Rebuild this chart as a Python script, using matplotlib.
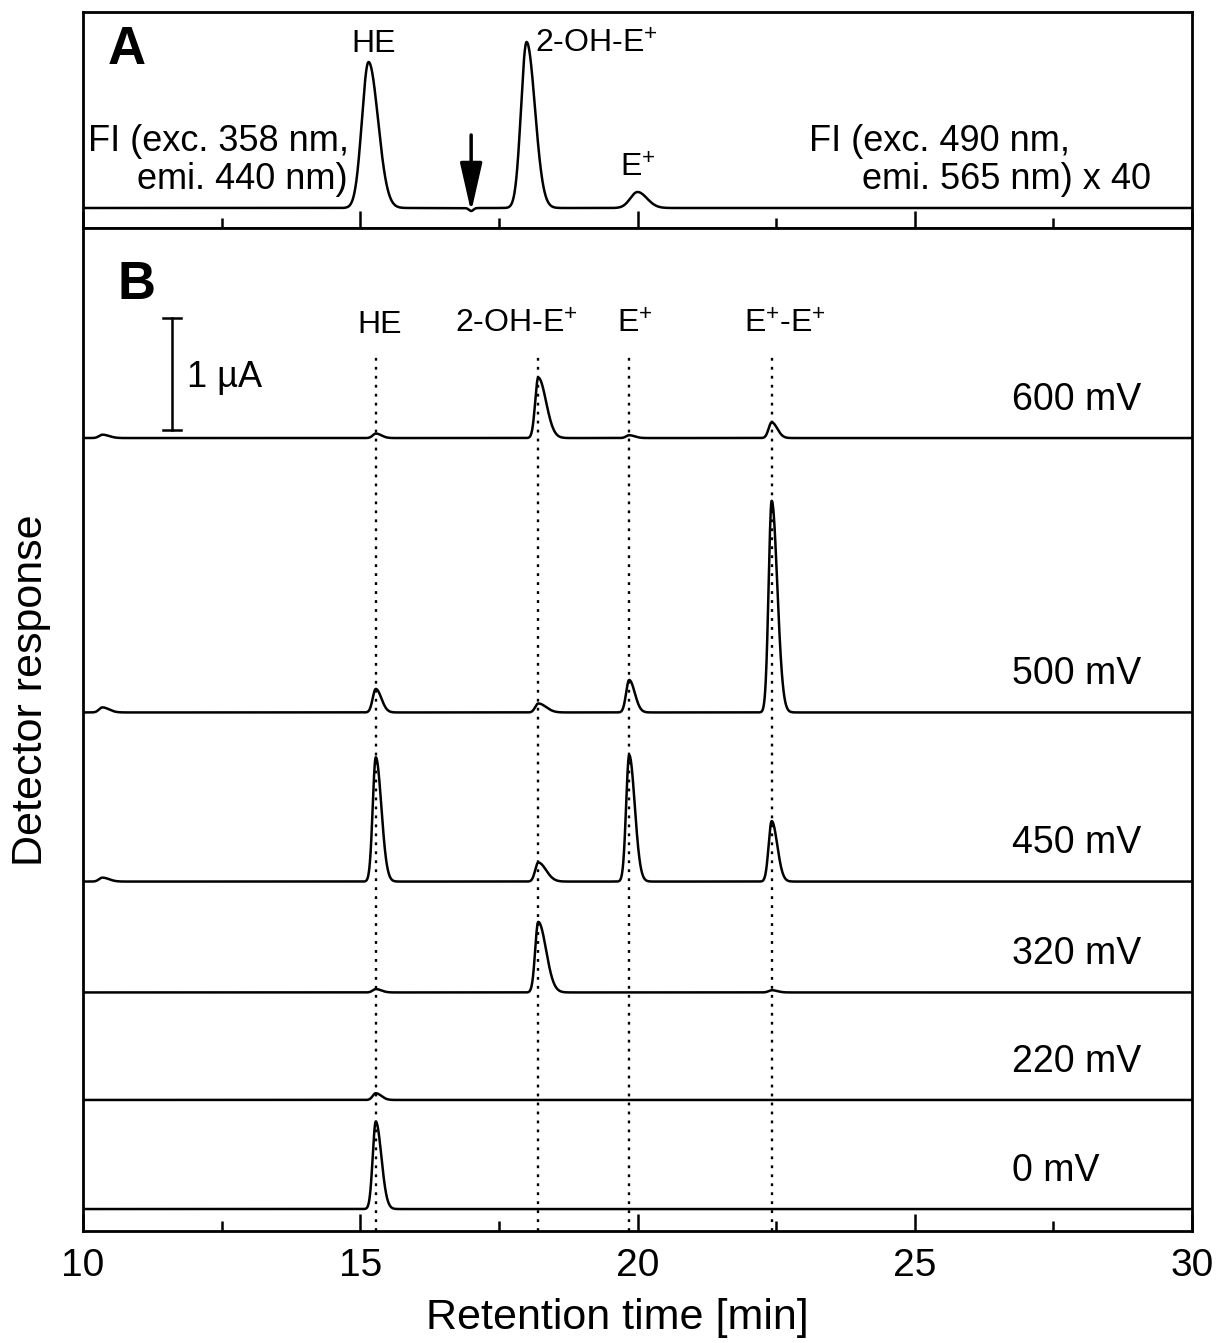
import numpy as np
import matplotlib
matplotlib.use("Agg")
import matplotlib.pyplot as plt

plt.rcParams["font.family"] = ["Liberation Sans", "DejaVu Sans"]
plt.rcParams["mathtext.fontset"] = "custom"
plt.rcParams["mathtext.rm"] = "Liberation Sans"
plt.rcParams["mathtext.it"] = "Liberation Sans:italic"
plt.rcParams["mathtext.bf"] = "Liberation Sans:bold"

# ---------------- data ----------------
# Panel A: fluorescence chromatogram (arbitrary units, baseline 0)
fl_times = [15.15, 17.0, 18.0, 20.0]
fl_heights = [146, -3, 166, 16]
fl_sigma_left = [0.12, 0.04, 0.10, 0.13]
fl_sigma_right = [0.17, 0.04, 0.15, 0.17]

# Panel B: electrochemical chromatograms (µA) at six potentials
potentials = ["600 mV", "500 mV", "450 mV", "320 mV", "220 mV", "0 mV"]
trace_offsets = [7.08, 4.63, 3.12, 2.13, 1.17, 0.196]
peak_names = ["HE", "2-OH-E$^{+}$", "E$^{+}$", "E$^{+}$-E$^{+}$"]
peak_times = [15.28, 18.21, 19.85, 22.42]
sigma_left = [0.055, 0.055, 0.055, 0.055]
sigma_right = [0.10, 0.14, 0.10, 0.10]
peak_heights = {
    "600 mV": [0.04, 0.54, 0.025, 0.14],
    "500 mV": [0.21, 0.08, 0.29, 1.89],
    "450 mV": [1.11, 0.17, 1.13, 0.54],
    "320 mV": [0.03, 0.63, 0.0, 0.02],
    "220 mV": [0.06, 0.0, 0.0, 0.0],
    "0 mV": [0.78, 0.0, 0.0, 0.0],
}
# small injection disturbance near the start of the run
early_time = 10.35
early_heights = [0.03, 0.045, 0.035, 0.0, 0.0, 0.0]

scale_bar_uA = 1.0


def bigauss(t, t0, h, sl, sr):
    s = np.where(t < t0, sl, sr)
    return h * np.exp(-0.5 * ((t - t0) / s) ** 2)


t = np.linspace(10, 30, 6001)

W_PX, H_PX = 1217, 1343
fig = plt.figure(figsize=(W_PX / 100, H_PX / 100), dpi=100)

left = 83 / W_PX
width = (1192 - 83) / W_PX
a_bottom = 1 - 228 / H_PX
a_top = 1 - 12 / H_PX
b_bottom = 1 - 1231 / H_PX

axA = fig.add_axes([left, a_bottom, width, a_top - a_bottom])
axB = fig.add_axes([left, b_bottom, width, a_bottom - b_bottom])

lw_trace = 1.8
for ax in (axA, axB):
    ax.set_xlim(10, 30)
    for sp in ax.spines.values():
        sp.set_linewidth(2.0)
    ax.set_yticks([])
    ax.set_xticks([10, 15, 20, 25, 30])
    ax.set_xticks([12.5, 17.5, 22.5, 27.5], minor=True)
    ax.tick_params(axis="x", which="major", direction="in", length=12, width=1.8,
                   labelsize=28, pad=12)
    ax.tick_params(axis="x", which="minor", direction="in", length=7, width=1.8)

# ---------------- panel A ----------------
yA = np.zeros_like(t)
for t0, h, sl, sr in zip(fl_times, fl_heights, fl_sigma_left, fl_sigma_right):
    yA += bigauss(t, t0, h, sl, sr)
axA.plot(t, yA, color="black", lw=lw_trace)
axA.set_ylim(-20, 196)
axA.tick_params(axis="x", labelbottom=False)

axA.text(0.0225, 0.824, "A", transform=axA.transAxes, fontsize=38,
         fontweight="bold", ha="left", va="center")
axA.text(15.24, 156, "HE", fontsize=23, ha="center", va="baseline")
axA.text(18.15, 155, "2-OH-E$^{+}$", fontsize=23, ha="left", va="baseline")
axA.text(20.0, 31, "E$^{+}$", fontsize=23, ha="center", va="baseline")
axA.text(10.09, 57, "FI (exc. 358 nm,", fontsize=26, ha="left", va="baseline")
axA.text(10.97, 19, "emi. 440 nm)", fontsize=26, ha="left", va="baseline")
axA.text(23.1, 57, "FI (exc. 490 nm,", fontsize=26, ha="left", va="baseline")
axA.text(24.04, 19, "emi. 565 nm) x 40", fontsize=26, ha="left", va="baseline")
axA.annotate("", xy=(17.0, -4), xytext=(17.0, 73),
             arrowprops=dict(arrowstyle="-|>,head_length=0.75,head_width=0.17",
                             lw=2.5, color="black", mutation_scale=40,
                             shrinkA=0, shrinkB=0))

# ---------------- panel B ----------------
axB.set_ylim(0, 1003 / 112)
for i, name in enumerate(potentials):
    y = np.full_like(t, trace_offsets[i])
    y += bigauss(t, early_time, early_heights[i], 0.06, 0.12)
    for t0, h, sl, sr in zip(peak_times, peak_heights[name], sigma_left, sigma_right):
        y += bigauss(t, t0, h, sl, sr)
    axB.plot(t, y, color="black", lw=lw_trace, zorder=3)
    axB.text(26.75, trace_offsets[i] + 0.34, name, fontsize=27,
             ha="left", va="center")

label_x = [15.35, 17.82, 19.96, 22.65]
for t0, lx, lab in zip(peak_times, label_x, peak_names):
    axB.plot([t0, t0], [0, 7.82], color="black", lw=1.7,
             linestyle=(0, (1.2, 2.6)), zorder=2)
    axB.text(lx, 8.02, lab, fontsize=23, ha="center", va="baseline")

# 1 µA scale bar
sb_x, sb_y0 = 11.6, 7.15
axB.plot([sb_x, sb_x], [sb_y0, sb_y0 + scale_bar_uA], color="black", lw=1.8)
for yy in (sb_y0, sb_y0 + scale_bar_uA):
    axB.plot([sb_x - 0.16, sb_x + 0.16], [yy, yy], color="black", lw=1.8)
axB.text(11.87, 7.62, "1 µA", fontsize=26, ha="left", va="center")

axB.text(0.0315, 0.943, "B", transform=axB.transAxes, fontsize=38,
         fontweight="bold", ha="left", va="center")

fig.text(617 / W_PX, 1 - 1318 / H_PX, "Retention time [min]", fontsize=31,
         ha="center", va="center")
fig.text(31 / W_PX, 1 - 690 / H_PX, "Detector response", fontsize=31,
         ha="center", va="center", rotation=90)

fig.savefig("out.png", dpi=100)
